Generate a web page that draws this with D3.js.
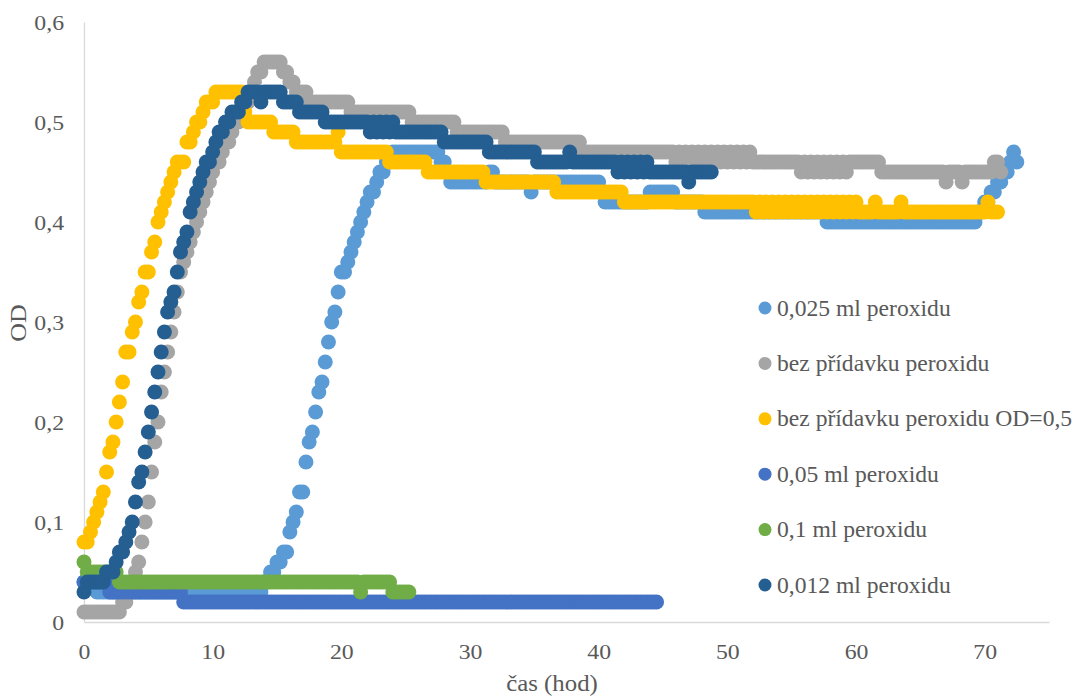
<!DOCTYPE html>
<html>
<head>
<meta charset="utf-8">
<script src="https://cdn.jsdelivr.net/npm/d3@7/dist/d3.min.js"></script>
<style>
  body { margin: 0; background: #fff; }
  svg { display: block; }
</style>
</head>
<body>
<svg id="chart" width="1077" height="698"></svg>
<script>
// measurements every 15 min, first sample at t = 0 h
const sampleStep = 0.25;

// OD values, one row = 5 h
const od025 = [
  0.04,0.04,0.04,0.04,0.03,0.03,0.03,0.03,0.03,0.03,0.03,0.03,0.03,0.03,0.03,0.03,0.03,0.03,0.03,0.03,
  0.03,0.03,0.03,0.03,0.03,0.03,0.03,0.03,0.03,0.03,0.03,0.03,0.03,0.03,0.03,0.03,0.03,0.03,0.03,0.03,
  0.03,0.03,0.03,0.03,0.03,0.03,0.03,0.03,0.03,0.03,0.03,0.03,0.03,0.03,0.03,0.03,0.04,0.04,0.05,0.05,
  0.06,0.06,0.07,0.07,0.09,0.10,0.11,0.13,0.13,0.16,0.18,0.19,0.21,0.23,0.24,0.26,0.28,0.30,0.31,0.33,
  0.35,0.35,0.36,0.37,0.38,0.39,0.40,0.41,0.42,0.43,0.43,0.44,0.45,0.45,0.46,0.46,0.47,0.47,0.47,0.47,
  0.47,0.47,0.47,0.47,0.47,0.47,0.47,0.47,0.47,0.47,0.47,0.46,0.46,0.45,0.44,0.44,0.44,0.44,0.44,0.44,
  0.44,0.44,0.44,0.44,0.44,0.44,0.45,0.45,0.44,0.44,0.44,0.44,0.44,0.44,0.44,0.44,0.44,0.44,0.44,0.43,
  0.44,0.44,0.44,0.44,0.44,0.44,0.44,0.44,0.44,0.44,0.44,0.44,0.44,0.44,0.44,0.44,0.44,0.44,0.44,0.44,
  0.44,0.43,0.42,0.42,0.42,0.42,0.42,0.42,0.42,0.42,0.42,0.42,0.42,0.42,0.42,0.42,0.43,0.43,0.43,0.43,
  0.43,0.43,0.43,0.43,0.42,0.42,0.42,0.42,0.42,0.42,0.42,0.42,0.42,0.41,0.41,0.41,0.41,0.41,0.41,0.41,
  0.41,0.41,0.41,0.41,0.41,0.41,0.41,0.41,0.41,0.41,0.41,0.41,0.41,0.41,0.41,0.41,0.41,0.41,0.41,0.41,
  0.41,0.41,0.41,0.41,0.41,0.41,0.41,0.41,0.41,0.41,0.41,0.40,0.40,0.40,0.40,0.40,0.40,0.40,0.40,0.40,
  0.40,0.40,0.40,0.40,0.40,0.40,0.40,0.40,0.40,0.40,0.40,0.40,0.40,0.40,0.40,0.40,0.40,0.40,0.40,0.40,
  0.40,0.40,0.40,0.40,0.40,0.40,0.40,0.40,0.40,0.40,0.40,0.40,0.40,0.40,0.40,0.40,0.40,0.40,0.41,0.41,
  0.42,0.42,0.43,0.43,0.44,0.44,0.45,0.45,0.46,0.47,0.46
];

const odNone = [
  0.01,0.01,0.01,0.01,0.01,0.01,0.01,0.01,0.01,0.01,0.01,0.01,0.02,0.02,0.03,0.04,0.05,0.06,0.08,0.10,
  0.12,0.15,0.18,0.20,0.23,0.25,0.27,0.29,0.31,0.33,0.35,0.36,0.37,0.38,0.39,0.40,0.41,0.42,0.43,0.44,
  0.45,0.46,0.46,0.47,0.48,0.48,0.49,0.50,0.50,0.51,0.52,0.52,0.53,0.54,0.55,0.55,0.56,0.56,0.56,0.56,
  0.56,0.56,0.55,0.55,0.54,0.54,0.53,0.53,0.53,0.53,0.52,0.52,0.52,0.52,0.52,0.52,0.52,0.52,0.52,0.52,
  0.52,0.52,0.52,0.51,0.51,0.51,0.51,0.51,0.51,0.51,0.51,0.51,0.51,0.51,0.51,0.51,0.51,0.51,0.51,0.51,
  0.51,0.51,0.50,0.50,0.50,0.50,0.50,0.50,0.50,0.50,0.50,0.50,0.50,0.50,0.50,0.50,0.49,0.49,0.49,0.49,
  0.49,0.49,0.49,0.49,0.49,0.49,0.49,0.49,0.49,0.49,0.49,0.48,0.48,0.48,0.48,0.48,0.48,0.48,0.48,0.48,
  0.48,0.48,0.48,0.48,0.48,0.48,0.48,0.48,0.48,0.48,0.48,0.48,0.48,0.48,0.48,0.47,0.47,0.47,0.47,0.47,
  0.47,0.47,0.47,0.47,0.47,0.47,0.47,0.47,0.47,0.47,0.47,0.47,0.47,0.47,0.47,0.47,0.47,0.47,0.47,0.47,
  0.47,0.47,0.47,0.47,0.46,0.47,0.46,0.47,0.46,0.47,0.46,0.47,0.46,0.47,0.46,0.47,0.46,0.47,0.46,0.47,
  0.46,0.47,0.46,0.47,0.46,0.47,0.46,0.47,0.46,0.46,0.46,0.46,0.46,0.46,0.46,0.46,0.46,0.46,0.46,0.46,
  0.46,0.46,0.46,0.45,0.46,0.45,0.46,0.45,0.46,0.45,0.46,0.45,0.46,0.45,0.46,0.45,0.46,0.45,0.46,0.46,
  0.46,0.46,0.46,0.46,0.46,0.46,0.46,0.46,0.45,0.45,0.45,0.45,0.45,0.45,0.45,0.45,0.45,0.45,0.45,0.45,
  0.45,0.45,0.45,0.45,0.45,0.45,0.45,0.45,0.44,0.45,0.45,0.45,0.45,0.44,0.45,0.45,0.45,0.45,0.45,0.45,
  0.45,0.45,0.45,0.46,0.46,0.45
];

const odNone05 = [
  0.08,0.08,0.09,0.10,0.11,0.12,0.13,0.15,0.17,0.18,0.20,0.22,0.24,0.27,0.27,0.29,0.30,0.32,0.33,0.35,
  0.35,0.37,0.38,0.40,0.41,0.42,0.43,0.44,0.45,0.46,0.46,0.46,0.48,0.48,0.49,0.50,0.50,0.51,0.52,0.52,
  0.52,0.53,0.53,0.53,0.53,0.53,0.53,0.53,0.53,0.53,0.51,0.50,0.50,0.50,0.50,0.50,0.50,0.50,0.50,0.49,
  0.49,0.49,0.49,0.49,0.49,0.49,0.48,0.48,0.48,0.48,0.48,0.48,0.48,0.48,0.48,0.48,0.48,0.48,0.48,0.49,
  0.47,0.47,0.47,0.47,0.47,0.47,0.47,0.47,0.47,0.47,0.47,0.47,0.47,0.47,0.47,0.46,0.46,0.46,0.46,0.46,
  0.46,0.46,0.46,0.46,0.46,0.46,0.46,0.45,0.45,0.45,0.45,0.45,0.45,0.45,0.45,0.45,0.45,0.45,0.45,0.45,
  0.45,0.45,0.45,0.45,0.45,0.44,0.44,0.44,0.44,0.44,0.44,0.44,0.44,0.44,0.44,0.44,0.44,0.44,0.44,0.44,
  0.44,0.44,0.44,0.44,0.44,0.44,0.44,0.43,0.43,0.43,0.43,0.43,0.43,0.43,0.43,0.43,0.43,0.43,0.43,0.43,
  0.43,0.43,0.43,0.43,0.43,0.43,0.43,0.43,0.42,0.42,0.42,0.42,0.42,0.42,0.42,0.42,0.42,0.42,0.42,0.42,
  0.42,0.42,0.42,0.42,0.42,0.42,0.42,0.42,0.42,0.42,0.42,0.42,0.42,0.42,0.42,0.42,0.42,0.42,0.42,0.42,
  0.42,0.42,0.42,0.42,0.42,0.42,0.42,0.42,0.42,0.41,0.42,0.41,0.42,0.41,0.42,0.41,0.42,0.41,0.42,0.41,
  0.42,0.41,0.42,0.41,0.42,0.41,0.42,0.41,0.42,0.41,0.42,0.41,0.42,0.41,0.42,0.41,0.42,0.41,0.42,0.41,
  0.42,0.41,0.41,0.41,0.41,0.41,0.42,0.41,0.41,0.41,0.41,0.41,0.41,0.41,0.42,0.41,0.41,0.41,0.41,0.41,
  0.41,0.41,0.41,0.41,0.41,0.41,0.41,0.41,0.41,0.41,0.41,0.41,0.41,0.41,0.41,0.41,0.41,0.41,0.41,0.41,
  0.41,0.42,0.41,0.41,0.41
];

const od05 = [
  0.04,0.04,0.04,0.04,0.04,0.04,0.04,0.04,0.03,0.03,0.03,0.03,0.03,0.03,0.03,0.03,0.03,0.03,0.03,0.03,
  0.03,0.03,0.03,0.03,0.03,0.03,0.03,0.03,0.03,0.03,0.03,0.02,0.02,0.02,0.02,0.02,0.02,0.02,0.02,0.02,
  0.02,0.02,0.02,0.02,0.02,0.02,0.02,0.02,0.02,0.02,0.02,0.02,0.02,0.02,0.02,0.02,0.02,0.02,0.02,0.02,
  0.02,0.02,0.02,0.02,0.02,0.02,0.02,0.02,0.02,0.02,0.02,0.02,0.02,0.02,0.02,0.02,0.02,0.02,0.02,0.02,
  0.02,0.02,0.02,0.02,0.02,0.02,0.02,0.02,0.02,0.02,0.02,0.02,0.02,0.02,0.02,0.02,0.02,0.02,0.02,0.02,
  0.02,0.02,0.02,0.02,0.02,0.02,0.02,0.02,0.02,0.02,0.02,0.02,0.02,0.02,0.02,0.02,0.02,0.02,0.02,0.02,
  0.02,0.02,0.02,0.02,0.02,0.02,0.02,0.02,0.02,0.02,0.02,0.02,0.02,0.02,0.02,0.02,0.02,0.02,0.02,0.02,
  0.02,0.02,0.02,0.02,0.02,0.02,0.02,0.02,0.02,0.02,0.02,0.02,0.02,0.02,0.02,0.02,0.02,0.02,0.02,0.02,
  0.02,0.02,0.02,0.02,0.02,0.02,0.02,0.02,0.02,0.02,0.02,0.02,0.02,0.02,0.02,0.02,0.02,0.02,0.02
];

const od1 = [
  0.06,0.05,0.05,0.05,0.05,0.05,0.05,0.05,0.05,0.05,0.05,0.04,0.04,0.04,0.04,0.04,0.04,0.04,0.04,0.04,
  0.04,0.04,0.04,0.04,0.04,0.04,0.04,0.04,0.04,0.04,0.04,0.04,0.04,0.04,0.04,0.04,0.04,0.04,0.04,0.04,
  0.04,0.04,0.04,0.04,0.04,0.04,0.04,0.04,0.04,0.04,0.04,0.04,0.04,0.04,0.04,0.04,0.04,0.04,0.04,0.04,
  0.04,0.04,0.04,0.04,0.04,0.04,0.04,0.04,0.04,0.04,0.04,0.04,0.04,0.04,0.04,0.04,0.04,0.04,0.04,0.04,
  0.04,0.04,0.04,0.04,0.04,0.04,0.03,0.04,0.04,0.04,0.04,0.04,0.04,0.04,0.04,0.04,0.03,0.03,0.03,0.03,
  0.03,0.03
];

const od012 = [
  0.03,0.04,0.04,0.04,0.04,0.04,0.04,0.05,0.05,0.05,0.06,0.07,0.07,0.08,0.09,0.10,0.12,0.14,0.15,0.17,
  0.19,0.21,0.23,0.25,0.27,0.29,0.31,0.32,0.33,0.35,0.37,0.38,0.39,0.41,0.42,0.43,0.44,0.45,0.46,0.46,
  0.47,0.48,0.49,0.49,0.50,0.50,0.51,0.51,0.51,0.52,0.52,0.53,0.53,0.53,0.53,0.52,0.53,0.53,0.53,0.53,
  0.53,0.53,0.52,0.52,0.52,0.52,0.52,0.51,0.51,0.51,0.51,0.51,0.51,0.51,0.51,0.50,0.50,0.50,0.50,0.50,
  0.50,0.50,0.50,0.50,0.50,0.50,0.50,0.50,0.50,0.49,0.50,0.49,0.50,0.49,0.50,0.49,0.50,0.49,0.49,0.49,
  0.49,0.49,0.49,0.49,0.49,0.49,0.49,0.49,0.49,0.49,0.49,0.49,0.48,0.48,0.48,0.48,0.48,0.48,0.48,0.48,
  0.48,0.48,0.48,0.48,0.48,0.48,0.47,0.47,0.47,0.47,0.47,0.47,0.47,0.47,0.47,0.47,0.47,0.47,0.47,0.47,
  0.47,0.46,0.46,0.46,0.46,0.46,0.46,0.46,0.46,0.46,0.46,0.47,0.46,0.46,0.46,0.46,0.46,0.46,0.46,0.46,
  0.46,0.46,0.46,0.46,0.46,0.46,0.45,0.46,0.45,0.46,0.45,0.46,0.45,0.46,0.45,0.46,0.45,0.45,0.45,0.45,
  0.45,0.45,0.45,0.45,0.45,0.45,0.45,0.45,0.44,0.45,0.45,0.45,0.45,0.45,0.45,0.45
];

const seriesNames = [
  '0,025 ml peroxidu',
  'bez přídavku peroxidu',
  'bez přídavku peroxidu OD=0,5',
  '0,05 ml peroxidu',
  '0,1 ml peroxidu',
  '0,012 ml peroxidu'
];
const seriesValues = [od025, odNone, odNone05, od05, od1, od012];
const seriesColors = ['#5B9BD5', '#A5A5A5', '#FFC000', '#4472C4', '#70AD47', '#255E91'];

const xTicks = [0, 10, 20, 30, 40, 50, 60, 70];
const yTicks = [0, 0.1, 0.2, 0.3, 0.4, 0.5, 0.6];
const yTickLabels = ['0', '0,1', '0,2', '0,3', '0,4', '0,5', '0,6'];

const svg = d3.select('#chart');
const font = "'Liberation Serif', 'Times New Roman', serif";
const textColor = '#595959';
const axisColor = '#D9D9D9';

const x = d3.scaleLinear().domain([0, 75]).range([84, 1049]);
const y = d3.scaleLinear().domain([0, 0.6]).range([622, 22]);

// axes
const xAxis = svg.append('g')
  .attr('transform', `translate(0,${y(0)})`)
  .call(d3.axisBottom(x).tickValues(xTicks).tickSize(0).tickPadding(21).tickFormat(d3.format('d')));

const yAxis = svg.append('g')
  .attr('transform', `translate(${x(0)},0)`)
  .call(d3.axisLeft(y).tickValues(yTicks).tickSize(0).tickPadding(18.5)
    .tickFormat((d, i) => yTickLabels[i]));

[xAxis, yAxis].forEach(g => {
  g.select('.domain').attr('stroke', axisColor).attr('stroke-width', 1.3);
  g.selectAll('text')
    .attr('font-family', font)
    .attr('font-size', 22)
    .attr('fill', textColor)
    .attr('transform', 'scale(1.08,1)');
});

// points
const plot = svg.append('g');
seriesValues.forEach((vals, s) => {
  plot.append('g')
    .selectAll('circle')
    .data(vals)
    .enter()
    .append('circle')
    .attr('cx', (d, i) => x(i * sampleStep))
    .attr('cy', d => y(d))
    .attr('r', 7.5)
    .attr('fill', seriesColors[s]);
});

// axis titles
svg.append('text')
  .attr('transform', 'translate(26,323) rotate(-90) scale(1.08,1)')
  .attr('text-anchor', 'middle')
  .attr('font-family', font)
  .attr('font-size', 24)
  .attr('fill', textColor)
  .text('OD');

svg.append('text')
  .attr('transform', 'translate(552,691) scale(1.08,1)')
  .attr('text-anchor', 'middle')
  .attr('font-family', font)
  .attr('font-size', 23)
  .attr('fill', textColor)
  .text('čas (hod)');

// legend
const legend = svg.append('g')
  .selectAll('g')
  .data(seriesNames)
  .enter()
  .append('g')
  .attr('transform', (d, i) => `translate(765,${308 + i * 55.4})`);

legend.append('circle')
  .attr('r', 6.5)
  .attr('fill', (d, i) => seriesColors[i]);

legend.append('text')
  .attr('transform', 'translate(12,7.5) scale(1.05,1)')
  .attr('font-family', font)
  .attr('font-size', 22.5)
  .attr('fill', textColor)
  .text(d => d);
</script>
</body>
</html>
